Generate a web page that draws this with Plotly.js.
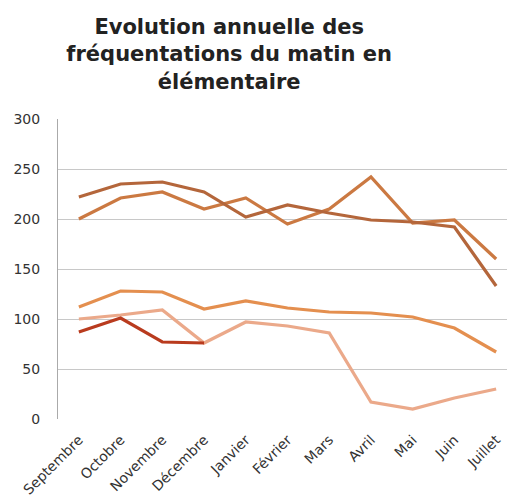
<!DOCTYPE html>
<html>
<head>
<meta charset="utf-8">
<script src="https://cdn.plot.ly/plotly-3.0.1.min.js"></script>
<style>html,body{margin:0;padding:0;background:#fff;}#chart{width:507px;height:502px;}</style>
</head>
<body>
<div id="chart"></div>
<script>
var months = ["Septembre","Octobre","Novembre","Décembre","Janvier","Février","Mars","Avril","Mai","Juin","Juillet"];
var serieA = [222, 235, 237, 227, 202, 214, 206, 199, 197, 192, 133];
var serieB = [200, 221, 227, 210, 221, 195, 210, 242, 196, 199, 160];
var serieC = [112, 128, 127, 110, 118, 111, 107, 106, 102, 91, 67];
var serieD = [100, 104, 109, 76, 97, 93, 86, 17, 10, 21, 30];
var serieE = [87, 101, 77, 76];
var yTicks = [0, 50, 100, 150, 200, 250, 300];

var series = [
  {y: serieD, color: "#eba98a"},
  {y: serieC, color: "#e48f4f"},
  {y: serieB, color: "#cb7942"},
  {y: serieA, color: "#b4663b"},
  {y: serieE, color: "#b93b1e"}
];

var traces = series.map(function(s){
  return {
    x: months.slice(0, s.y.length),
    y: s.y,
    type: "scatter",
    mode: "lines",
    line: {color: s.color, width: 3.2},
    hoverinfo: "skip",
    showlegend: false
  };
});

var FONT = "DejaVu Sans, Verdana, sans-serif";

var layout = {
  width: 507,
  height: 502,
  margin: {l: 58, r: 0, t: 119, b: 83},
  paper_bgcolor: "#fff",
  plot_bgcolor: "#fff",
  title: {
    text: "<b>Evolution annuelle des<br>fréquentations du matin en<br>élémentaire</b>",
    font: {family: FONT, size: 21, color: "#222"},
    x: 0.452,
    xanchor: "center",
    y: 0.932,
    yanchor: "middle"
  },
  xaxis: {
    type: "category",
    range: [-0.5, 10.26],
    tickangle: -45,
    tickfont: {family: FONT, size: 14, color: "#333"},
    showgrid: false,
    zeroline: false,
    showline: false,
    ticks: "",
    ticklabelstandoff: 9
  },
  yaxis: {
    range: [0, 300],
    tickvals: yTicks,
    tickfont: {family: FONT, size: 14, color: "#333"},
    showgrid: true,
    gridcolor: "#c8c8c8",
    gridwidth: 1,
    zeroline: false,
    showline: true,
    linecolor: "#aaaaaa",
    linewidth: 1,
    ticks: "",
    ticklabelstandoff: 14
  }
};

Plotly.newPlot("chart", traces, layout, {staticPlot: true, displayModeBar: false});
</script>
</body>
</html>
